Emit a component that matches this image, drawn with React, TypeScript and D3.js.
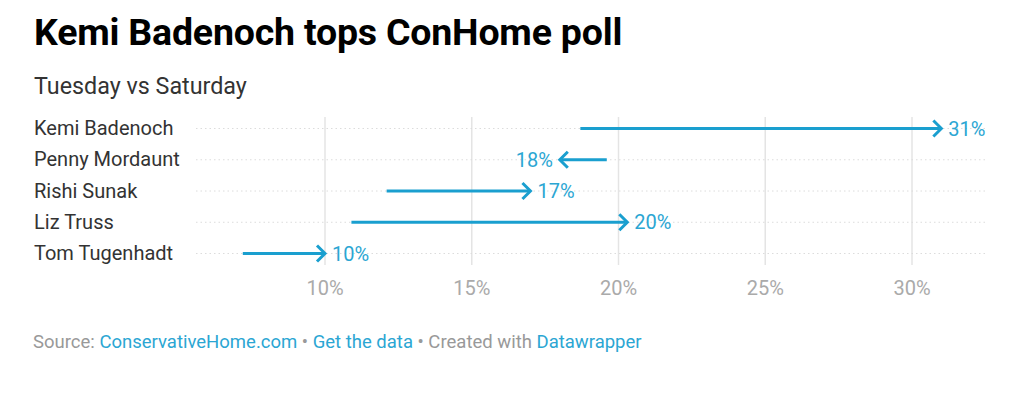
import React from "react";
import * as d3 from "d3";

const candidates = ["Kemi Badenoch", "Penny Mordaunt", "Rishi Sunak", "Liz Truss", "Tom Tugenhadt"];
const tuesday = [18.7, 19.6, 12.1, 10.9, 7.2];
const saturday = [31, 18, 17, 20.3, 10];
const saturdayLabels = ["31%", "18%", "17%", "20%", "10%"];
const ticks = [10, 15, 20, 25, 30];

const W = 1024;
const H = 398;
const BLUE = "#1a9fcf";
const LABEL_BLUE = "#2ba6d3";
const FONT = "Roboto, 'Noto Sans', sans-serif";

export default function App() {
  const x = d3.scaleLinear().domain([10, 30]).range([325, 912]);
  const y = d3.scalePoint<string>().domain(candidates).range([128.5, 253.5]);
  const plotLeft = 196;
  const plotRight = 988;
  const gridTop = 117;
  const gridBottom = 265;
  const head = 8;

  return (
    <svg width={W} height={H} style={{ position: "absolute", left: 0, top: 0, fontFamily: FONT }}>
      <text x={34} y={45} fontSize={37.5} fontWeight={700} fill="#000" style={{ letterSpacing: "-0.2px" }}>
        Kemi Badenoch tops ConHome poll
      </text>
      <text x={34} y={94} fontSize={23.3} fill="#333">
        Tuesday vs Saturday
      </text>

      {ticks.map((t) => (
        <line key={"g" + t} x1={x(t)} x2={x(t)} y1={gridTop} y2={gridBottom} stroke="#e4e4e4" strokeWidth={1.5} />
      ))}

      {candidates.map((c) => (
        <g key={"r" + c}>
          <line x1={plotLeft} x2={plotRight} y1={y(c)!} y2={y(c)!} stroke="#dcdcdc" strokeWidth={1} strokeDasharray="1.5,3" />
          <text x={34} y={y(c)! + 6.5} fontSize={20} fill="#333">
            {c}
          </text>
        </g>
      ))}

      {candidates.map((c, i) => {
        const x0 = x(tuesday[i]);
        const x1 = x(saturday[i]);
        const yy = y(c)!;
        const dir = x1 > x0 ? 1 : -1;
        const tip = x1;
        const chevron = d3.line()([
          [tip - dir * head, yy - head],
          [tip, yy],
          [tip - dir * head, yy + head],
        ]);
        return (
          <g key={"a" + c}>
            <line x1={x0} x2={tip - dir * 1.5} y1={yy} y2={yy} stroke={BLUE} strokeWidth={3} />
            <path d={chevron!} fill="none" stroke={BLUE} strokeWidth={3} strokeLinejoin="miter" strokeLinecap="butt" />
            <text
              x={tip + dir * 7}
              y={yy + 7}
              fontSize={20}
              fill={LABEL_BLUE}
              textAnchor={dir > 0 ? "start" : "end"}
            >
              {saturdayLabels[i]}
            </text>
          </g>
        );
      })}

      {ticks.map((t) => (
        <text key={"t" + t} x={x(t)} y={295} fontSize={20} fill="#aaa" textAnchor="middle">
          {t + "%"}
        </text>
      ))}

      <text x={33} y={348} fontSize={18.5} fill="#999">
        <tspan>Source: </tspan>
        <tspan fill={LABEL_BLUE}>ConservativeHome.com</tspan>
        <tspan> • </tspan>
        <tspan fill={LABEL_BLUE}>Get the data</tspan>
        <tspan> • Created with </tspan>
        <tspan fill={LABEL_BLUE}>Datawrapper</tspan>
      </text>
    </svg>
  );
}
